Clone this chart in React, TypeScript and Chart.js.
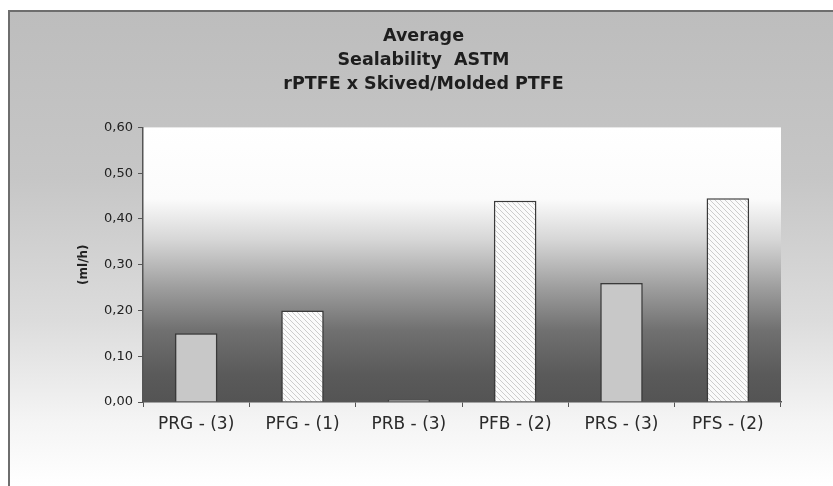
import { useEffect, useRef } from "react";
import { Chart, registerables } from "chart.js";

Chart.register(...registerables);

const categories = ["PRG - (3)", "PFG - (1)", "PRB - (3)", "PFB - (2)", "PRS - (3)", "PFS - (2)"];
const values = [0.15, 0.2, 0.005, 0.44, 0.26, 0.445];
const hatched = [false, true, false, true, false, true];
const titleLines = ["Average", "Sealability  ASTM", "rPTFE x Skived/Molded PTFE"];
const yTitle = "(ml/h)";
const yMin = 0;
const yMax = 0.6;
const yStep = 0.1;

function makeHatch(): CanvasPattern | string {
  const c = document.createElement("canvas");
  const s = 5;
  c.width = s;
  c.height = s;
  const x = c.getContext("2d");
  if (!x) return "#ffffff";
  x.fillStyle = "#fbfbfb";
  x.fillRect(0, 0, s, s);
  x.strokeStyle = "#cdcdcd";
  x.lineWidth = 1;
  x.beginPath();
  x.moveTo(-1, -1);
  x.lineTo(s + 1, s + 1);
  x.moveTo(-s - 1, -1);
  x.lineTo(1, s + 1);
  x.moveTo(s - 1, -1);
  x.lineTo(2 * s + 1, s + 1);
  x.stroke();
  return x.createPattern(c, "repeat") || "#ffffff";
}

const backgroundPlugin = {
  id: "sheetBackground",
  beforeDraw(chart: any) {
    const { ctx, width, height, chartArea } = chart;
    ctx.save();
    ctx.fillStyle = "#ffffff";
    ctx.fillRect(0, 0, width, height);
    const g = ctx.createLinearGradient(0, 11, 0, height);
    g.addColorStop(0, "#bdbdbd");
    g.addColorStop(0.35, "#c6c6c6");
    g.addColorStop(0.65, "#dcdcdc");
    g.addColorStop(0.86, "#f4f4f4");
    g.addColorStop(1, "#ffffff");
    ctx.fillStyle = g;
    ctx.fillRect(9, 11, width - 9, height - 11);
    ctx.strokeStyle = "#6e6e6e";
    ctx.lineWidth = 2;
    ctx.beginPath();
    ctx.moveTo(9, height);
    ctx.lineTo(9, 11);
    ctx.lineTo(width, 11);
    ctx.stroke();
    const { left, top, right, bottom } = chartArea;
    const pg = ctx.createLinearGradient(0, top, 0, bottom);
    pg.addColorStop(0, "#ffffff");
    pg.addColorStop(0.26, "#fbfbfb");
    pg.addColorStop(0.41, "#d6d6d6");
    pg.addColorStop(0.59, "#9c9c9c");
    pg.addColorStop(0.74, "#707070");
    pg.addColorStop(0.9, "#5a5a5a");
    pg.addColorStop(1, "#545454");
    ctx.fillStyle = pg;
    ctx.fillRect(left, top, right - left, bottom - top);
    ctx.restore();
  },
};

export default function App() {
  const ref = useRef<HTMLCanvasElement | null>(null);

  useEffect(() => {
    document.body.style.margin = "0";
    const canvas = ref.current;
    if (!canvas) return;
    const hatch = makeHatch();
    const chart = new Chart(canvas, {
      type: "bar",
      data: {
        labels: categories,
        datasets: [
          {
            data: values,
            backgroundColor: hatched.map((h) => (h ? hatch : "#c8c8c8")) as any,
            borderColor: "#3a3a3a",
            borderWidth: 1.5,
            barPercentage: 0.4,
            categoryPercentage: 1,
          },
        ],
      },
      options: {
        animation: false,
        responsive: false,
        devicePixelRatio: 1,
        layout: { padding: { left: 66, right: 52, top: 0, bottom: 0 } },
        plugins: {
          legend: { display: false },
          tooltip: { enabled: false },
          title: {
            display: true,
            text: titleLines,
            color: "#1e1e1e",
            font: { family: "DejaVu Sans", size: 17.5, weight: "bold", lineHeight: 1.36 },
            padding: { top: 25, bottom: 31 },
          },
        },
        scales: {
          x: {
            grid: { drawOnChartArea: false, drawTicks: true, tickLength: 5, color: "#555555", offset: true },
            border: { color: "#555555", width: 1.5 },
            ticks: {
              color: "#2a2a2a",
              font: { family: "DejaVu Sans", size: 17 },
              padding: 7,
              maxRotation: 0,
              autoSkip: false,
            },
            afterFit(scale: any) {
              scale.height = 84;
            },
          },
          y: {
            min: yMin,
            max: yMax,
            grid: { drawOnChartArea: false, drawTicks: true, tickLength: 5, color: "#555555" },
            border: { color: "#555555", width: 1.5 },
            ticks: {
              stepSize: yStep,
              color: "#222222",
              font: { family: "DejaVu Sans", size: 13 },
              padding: 5,
              callback: (v: any) => Number(v).toFixed(2).replace(".", ","),
            },
            title: {
              display: true,
              text: yTitle,
              color: "#222222",
              font: { family: "DejaVu Sans", size: 12, weight: "bold" },
              padding: { top: 11, bottom: 0 },
            },
            afterFit(scale: any) {
              scale.width = 77;
            },
          },
        },
      },
      plugins: [backgroundPlugin],
    });
    return () => chart.destroy();
  }, []);

  return <canvas ref={ref} width={833} height={486} style={{ display: "block" }} />;
}
